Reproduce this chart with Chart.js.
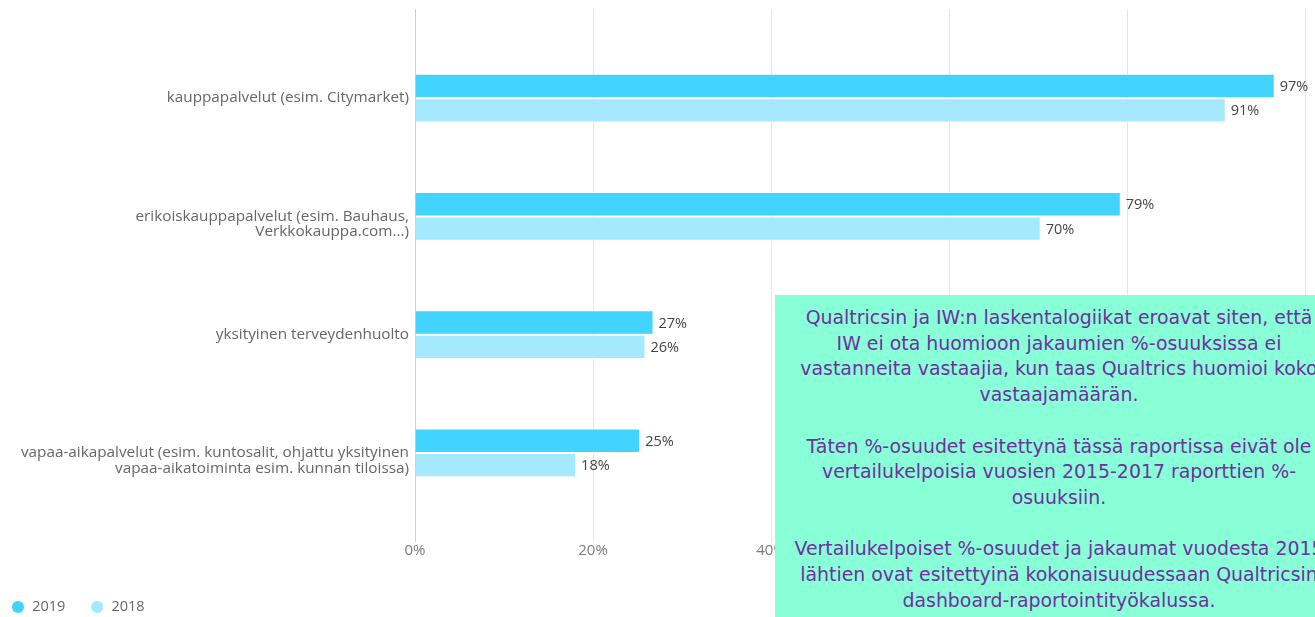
<!DOCTYPE html>
<html>
<head>
<meta charset="utf-8">
<script src="https://cdn.jsdelivr.net/npm/chart.js@4.4.1/dist/chart.umd.min.js"></script>
<style>
  html, body { margin: 0; padding: 0; background: #fff; overflow: hidden; }
  #wrap { position: relative; width: 1315px; height: 617px; overflow: hidden; }
  #chart { position: absolute; left: 0; top: 0; }
  #note {
    position: absolute; left: 775px; top: 295px; width: 568px; height: 330px;
    background: #88FFD6; color: #7030A0;
    font-family: "DejaVu Sans", sans-serif; font-size: 18.9px; line-height: 25.7px;
    text-align: center; white-space: nowrap; box-sizing: border-box; padding-top: 10px;
  }
</style>
</head>
<body>
<div id="wrap">
  <canvas id="chart" width="1315" height="617"></canvas>
  <div id="note">Qualtricsin ja IW:n laskentalogiikat eroavat siten, että<br>IW ei ota huomioon jakaumien %-osuuksissa ei<br>vastanneita vastaajia, kun taas Qualtrics huomioi koko<br>vastaajamäärän.<br><br>Täten %-osuudet esitettynä tässä raportissa eivät ole<br>vertailukelpoisia vuosien 2015-2017 raporttien %-<br>osuuksiin.<br><br>Vertailukelpoiset %-osuudet ja jakaumat vuodesta 2015<br>lähtien ovat esitettyinä kokonaisuudessaan Qualtricsin<br>dashboard-raportointityökalussa.</div>
</div>
<script>
const categories = [
  ['kauppapalvelut (esim. Citymarket)'],
  ['erikoiskauppapalvelut (esim. Bauhaus,', 'Verkkokauppa.com...)'],
  ['yksityinen terveydenhuolto'],
  ['vapaa-aikapalvelut (esim. kuntosalit, ohjattu yksityinen', 'vapaa-aikatoiminta esim. kunnan tiloissa)']
];
const seriesNames = ['2019', '2018'];
const values2019 = [96.6, 79.3, 26.8, 25.3];
const values2018 = [91.1, 70.3, 25.9, 18.1];
const xTickValues = [0, 20, 40, 60, 80, 100];

const gridColor = (c) => (c.tick && c.tick.value === 0) ? '#cfcfcf' : '#e6e6e6';

const valueLabels = {
  id: 'valueLabels',
  afterDatasetsDraw(chart) {
    const ctx = chart.ctx;
    ctx.save();
    ctx.font = '14.5px "Open Sans"';
    ctx.fillStyle = '#444444';
    ctx.textBaseline = 'middle';
    ctx.textAlign = 'left';
    chart.data.datasets.forEach((ds, i) => {
      chart.getDatasetMeta(i).data.forEach((bar, j) => {
        ctx.fillText(Math.round(ds.data[j]) + '%', bar.x + 5, bar.y + 1);
      });
    });
    ctx.restore();
  }
};

new Chart(document.getElementById('chart'), {
  type: 'bar',
  data: {
    labels: categories,
    datasets: [
      { label: seriesNames[0], data: values2019, backgroundColor: '#42D3FF', borderColor: '#ffffff', borderWidth: 1 },
      { label: seriesNames[1], data: values2018, backgroundColor: '#A4E9FF', borderColor: '#ffffff', borderWidth: 1 }
    ]
  },
  options: {
    indexAxis: 'y',
    responsive: false,
    animation: false,
    layout: { padding: { top: 9, right: 10, left: -13.75, bottom: -7.25 } },
    datasets: { bar: { categoryPercentage: 0.414, barPercentage: 1 } },
    scales: {
      y: {
        grid: { display: false, drawTicks: false },
        border: { display: false },
        afterFit: (s) => { s.width = 428.75; },
        ticks: {
          padding: 6,
          color: '#666666',
          font: { family: '"Open Sans"', size: 15.3, lineHeight: 1.01 },
          callback: function (v, i) {
            const lines = categories[i];
            return lines.length > 1 ? [''].concat(lines) : lines[0];
          }
        }
      },
      x: {
        position: 'bottom',
        min: 0, max: 100,
        afterBuildTicks: (s) => { s.ticks = xTickValues.map(v => ({ value: v })); },
        afterFit: (s) => { s.height = 63; s.paddingRight = 10; },
        grid: { color: gridColor, tickLength: 30, drawTicks: true, tickColor: gridColor },
        border: { display: false },
        ticks: { padding: 0, color: '#7b7b7b', font: { family: '"Open Sans"', size: 15 }, callback: (v) => v + '%' }
      },
      x2: {
        position: 'top',
        axis: 'x',
        min: 0, max: 100,
        afterBuildTicks: (s) => { s.ticks = xTickValues.map(v => ({ value: v })); },
        afterFit: (s) => { s.height = 30; },
        grid: { drawOnChartArea: false, tickLength: 30, drawTicks: true, tickColor: gridColor, color: gridColor },
        border: { display: false },
        ticks: { display: false }
      }
    },
    plugins: {
      legend: {
        position: 'bottom',
        align: 'start',
        labels: {
          usePointStyle: true,
          pointStyle: 'circle',
          boxWidth: 14,
          boxHeight: 9.2,
          padding: 24.75,
          color: '#666666',
          font: { family: '"Open Sans"', size: 14.5 }
        }
      },
      tooltip: { enabled: false }
    }
  },
  plugins: [valueLabels]
});
</script>
</body>
</html>
